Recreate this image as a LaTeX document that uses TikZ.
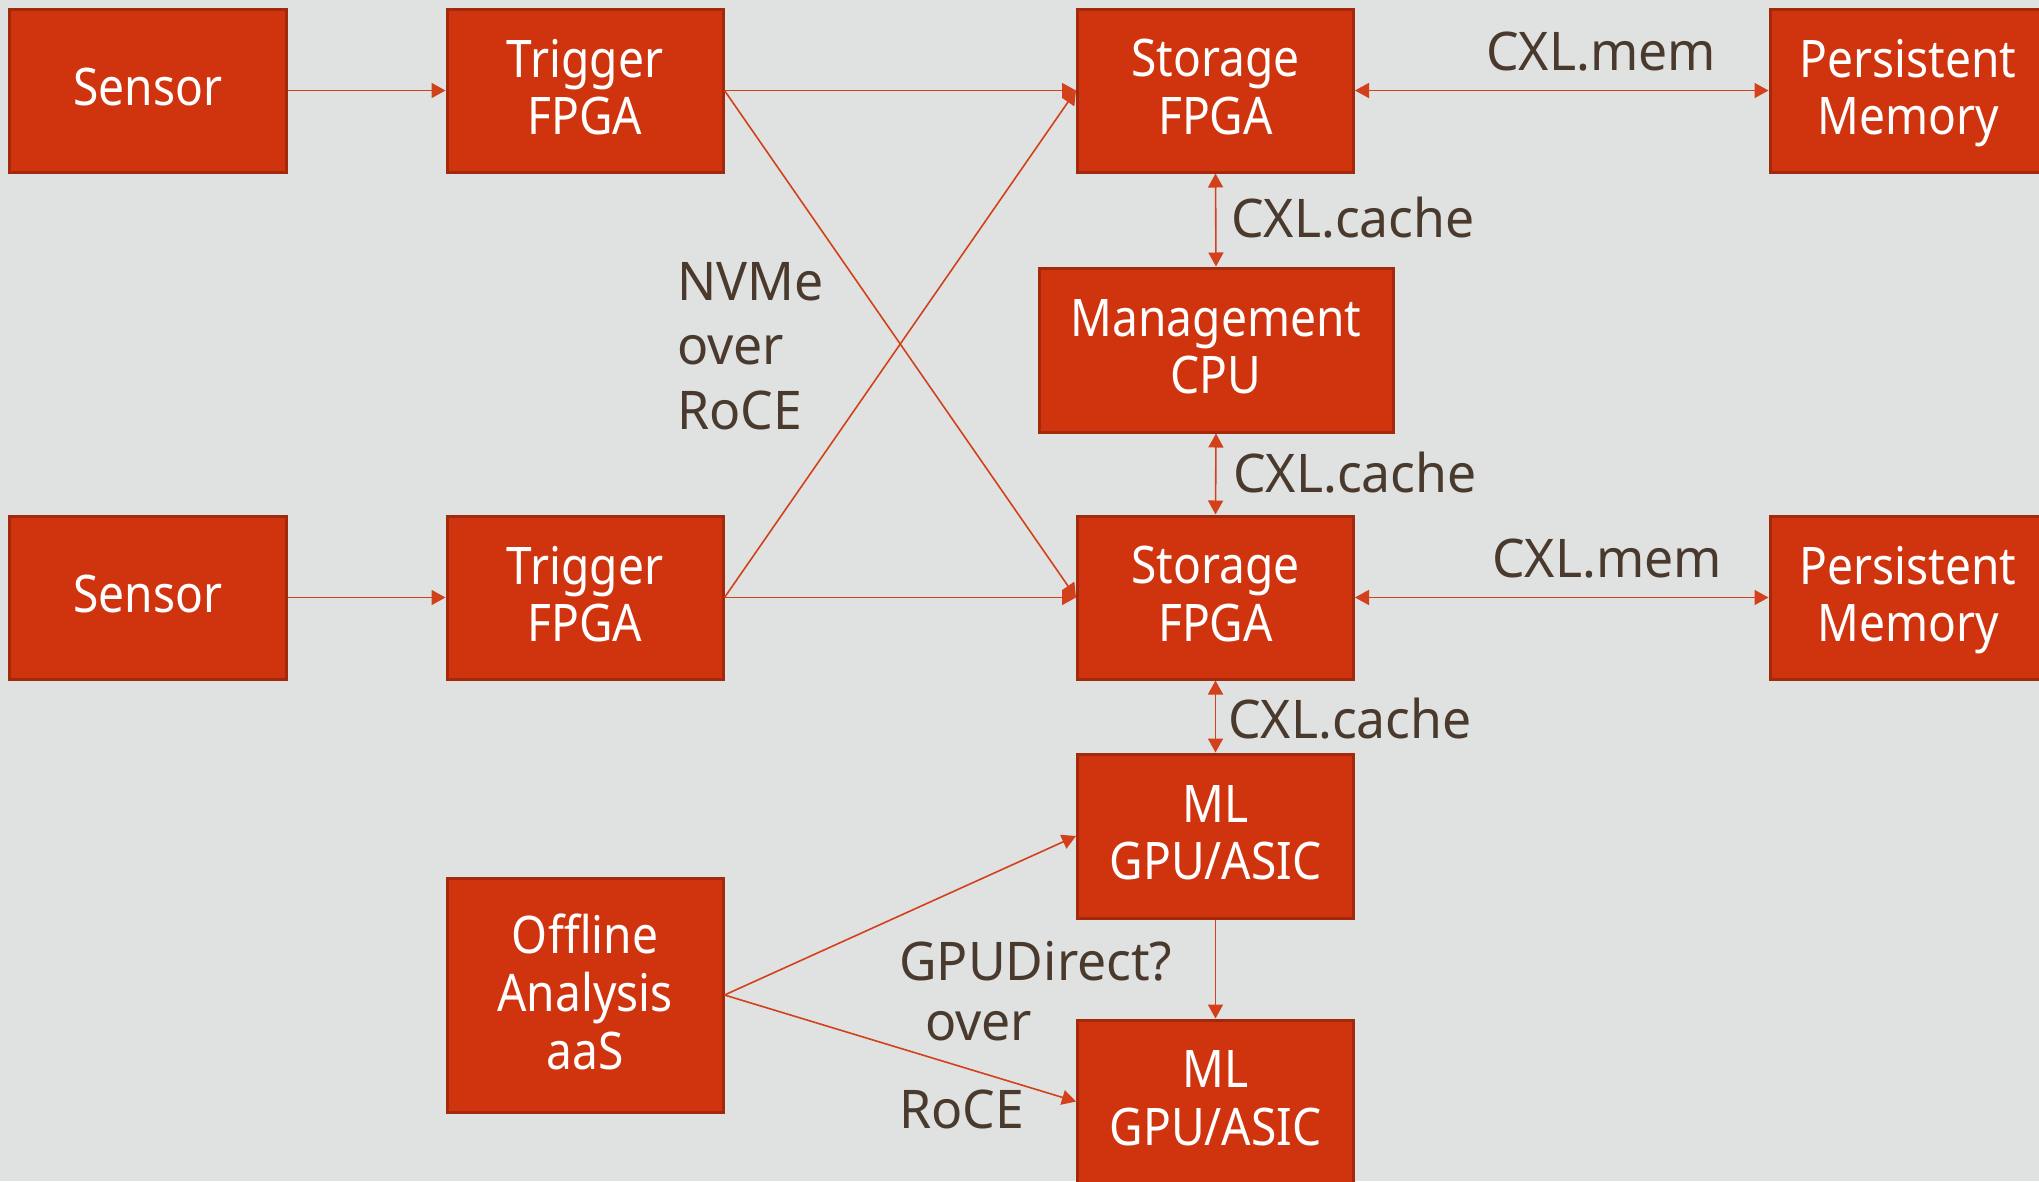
\documentclass[tikz,border=0pt]{standalone}
\usepackage{fontspec}
\setmainfont{Noto Sans}
\newfontfamily\boxfont[FakeStretch=0.89]{Noto Sans}
\newfontfamily\labfont[FakeStretch=0.97]{Noto Sans}
\usetikzlibrary{arrows.meta}
\definecolor{bg}{HTML}{E0E2E1}
\definecolor{boxred}{HTML}{D0340F}
\definecolor{bord}{HTML}{A3290C}
\definecolor{linec}{HTML}{D2401C}
\definecolor{lbl}{HTML}{4A3A2E}
\tikzset{
  blk/.style={draw=bord, line width=3bp, fill=boxred, text=white, align=center,
    font=\boxfont\fontsize{52}{58}\selectfont, inner sep=0pt, text depth=7bp,
    minimum width=276bp, minimum height=163bp},
  lab/.style={text=lbl, font=\labfont\fontsize{53.5}{65}\selectfont, inner sep=0pt, align=left},
  conn/.style={draw=linec, line width=1.6bp},
  tip/.style={-{Triangle[length=14bp,width=15bp]}},
  tips/.style={{Triangle[length=14bp,width=15bp]}-{Triangle[length=14bp,width=15bp]}}
}
\begin{document}
\begin{tikzpicture}[x=1bp,y=-1bp]
\fill[bg] (0,0) rectangle (2039,1181);
\useasboundingbox (0,0) rectangle (2039,1181);
% boxes
\node[blk] (s1) at (148,90.5) {Sensor};
\node[blk] (t1) at (585,90.5) {Trigger\\FPGA};
\node[blk] (st1) at (1215.5,90.5) {Storage\\FPGA};
\node[blk] (pm1) at (1908,90.5) {Persistent\\Memory};
\node[blk, minimum width=354bp, minimum height=164bp] (cpu) at (1216,350) {Management\\CPU};
\node[blk] (s2) at (148,597.5) {Sensor};
\node[blk] (t2) at (585,597.5) {Trigger\\FPGA};
\node[blk] (st2) at (1215.5,597.5) {Storage\\FPGA};
\node[blk] (pm2) at (1908,597.5) {Persistent\\Memory};
\node[blk, minimum height=164bp] (ml1) at (1215.5,836) {ML\\GPU/ASIC};
\node[blk] (ml2) at (1215.5,1101.5) {ML\\GPU/ASIC};
\node[blk, minimum height=234bp] (off) at (585,995) {Offline\\Analysis\\aaS};
% labels
\node[lab] (l1) at (1601,52) {CXL.mem};
\node[lab, anchor=west] (l2) at (1231,218) {CXL.cache};
\node[lab, anchor=west] (l3) at (677,346) {NVMe\\over\\RoCE};
\node[lab, anchor=west] (l4) at (1233,473) {CXL.cache};
\node[lab] (l5) at (1607,559) {CXL.mem};
\node[lab, anchor=west] (l6) at (1228,719) {CXL.cache};
\node[lab, anchor=west] (l7) at (899,961) {GPUDirect?};
\node[lab, anchor=west] (l8) at (925,1026) {over};
\node[lab, anchor=west] (l9) at (899,1109) {RoCE};
% connectors
\draw[conn,tip] (s1.east) -- (t1.west);
\draw[conn,tip] (s2.east) -- (t2.west);
\draw[conn,tip] (t1.east) -- (st1.west);
\draw[conn,tip] (t2.east) -- (st2.west);
\draw[conn,tip] (t1.east) -- (st2.west);
\draw[conn,tip] (t2.east) -- (st1.west);
\draw[conn,tips] (st1.east) -- (pm1.west);
\draw[conn,tips] (st2.east) -- (pm2.west);
\draw[conn,tips] (st1.south) -- (cpu.north);
\draw[conn,tips] (cpu.south) -- (st2.north);
\draw[conn,tips] (st2.south) -- (ml1.north);
\draw[conn,tip] (ml1.south) -- (ml2.north);
\draw[conn,tip] (off.east) -- (ml1.west);
\draw[conn,tip] (off.east) -- (ml2.west);
\end{tikzpicture}
\end{document}
